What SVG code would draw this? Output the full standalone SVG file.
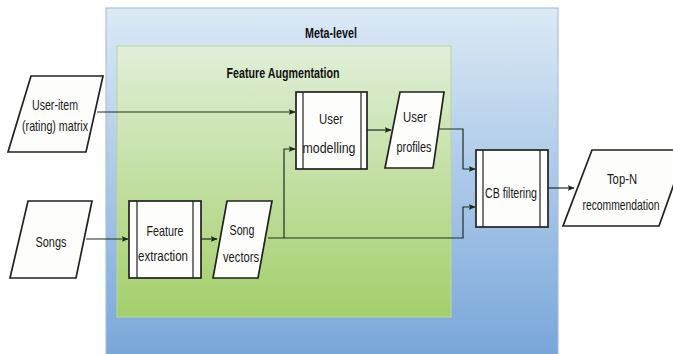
<svg xmlns="http://www.w3.org/2000/svg" width="673" height="354" viewBox="0 0 673 354">
<defs>
<linearGradient id="gBlue" x1="0" y1="0" x2="0" y2="1">
<stop offset="0" stop-color="#dce9f6"/>
<stop offset="1" stop-color="#78a6d9"/>
</linearGradient>
<linearGradient id="gGreen" x1="0" y1="0" x2="0" y2="1">
<stop offset="0" stop-color="#e1efd8"/>
<stop offset="1" stop-color="#a3cf6a"/>
</linearGradient>
<marker id="arr" viewBox="0 0 10 10" refX="9" refY="5" markerWidth="7" markerHeight="7" orient="auto" markerUnits="userSpaceOnUse">
<path d="M0,1 L10,5 L0,9 L2,5 Z" fill="#1a2a1a"/>
</marker>
</defs>
<style>
.node{fill:#fdfdfb;stroke:#222;stroke-width:1.7}
.inner{stroke:#222;stroke-width:1.2;fill:none}
.t{font-family:"Liberation Sans",Arial,sans-serif;font-size:15px;fill:#1a1a1a;text-anchor:middle}
.b{font-family:"Liberation Sans",Arial,sans-serif;font-size:15px;font-weight:bold;fill:#111;text-anchor:middle}
.c{fill:none;stroke:#1e2e22;stroke-width:1.2}
</style>
<g id="meta-level">
<rect x="106" y="8" width="452" height="350" fill="url(#gBlue)" stroke="#9fbbd8" stroke-width="1"/>
<text class="b" x="331" y="38" textLength="52" lengthAdjust="spacingAndGlyphs">Meta-level</text>
</g>
<g id="feature-augmentation">
<rect x="117" y="46" width="334" height="271" fill="url(#gGreen)" stroke="#b7d79a" stroke-width="1"/>
<text class="b" x="283" y="78" textLength="113" lengthAdjust="spacingAndGlyphs">Feature Augmentation</text>
</g>
<g id="connectors">
<path class="c" d="M97,112 H295" marker-end="url(#arr)"/>
<path class="c" d="M86,239 H128" marker-end="url(#arr)"/>
<path class="c" d="M201,239 H217" marker-end="url(#arr)"/>
<path class="c" d="M268,238 H463 V207 H475" marker-end="url(#arr)"/>
<path class="c" d="M284,238 V149 H295" marker-end="url(#arr)"/>
<path class="c" d="M367,130 H391" marker-end="url(#arr)"/>
<path class="c" d="M439,129 H463 V169 H475" marker-end="url(#arr)"/>
<path class="c" d="M548,188 H574" marker-end="url(#arr)"/>
</g>
<g id="user-item-matrix">
<path class="node" d="M31,76 H103 L86,152 H8 Z"/>
<text class="t" x="55" y="110" textLength="46" lengthAdjust="spacingAndGlyphs">User-item</text>
<text class="t" x="55" y="131" textLength="66" lengthAdjust="spacingAndGlyphs">(rating) matrix</text>
</g>
<g id="songs">
<path class="node" d="M28,201 H92 L76,278 H10 Z"/>
<text class="t" x="51" y="247" textLength="31" lengthAdjust="spacingAndGlyphs">Songs</text>
</g>
<g id="feature-extraction">
<rect class="node" x="129" y="201" width="72" height="77"/>
<path class="inner" d="M137,201 V278 M193,201 V278"/>
<text class="t" x="165" y="236" textLength="37" lengthAdjust="spacingAndGlyphs">Feature</text>
<text class="t" x="163" y="261" textLength="50" lengthAdjust="spacingAndGlyphs">extraction</text>
</g>
<g id="song-vectors">
<path class="node" d="M227,201 H272 L258,278 H213 Z"/>
<text class="t" x="242" y="235" textLength="25" lengthAdjust="spacingAndGlyphs">Song</text>
<text class="t" x="241" y="262" textLength="36" lengthAdjust="spacingAndGlyphs">vectors</text>
</g>
<g id="user-modelling">
<rect class="node" x="296" y="92" width="71" height="77"/>
<path class="inner" d="M303,92 V169 M361,92 V169"/>
<text class="t" x="331" y="124" textLength="24" lengthAdjust="spacingAndGlyphs">User</text>
<text class="t" x="329" y="153" textLength="53" lengthAdjust="spacingAndGlyphs">modelling</text>
</g>
<g id="user-profiles">
<path class="node" d="M400,92 H444 L433,168 H385 Z"/>
<text class="t" x="415" y="122" textLength="24" lengthAdjust="spacingAndGlyphs">User</text>
<text class="t" x="414" y="152" textLength="35" lengthAdjust="spacingAndGlyphs">profiles</text>
</g>
<g id="cb-filtering">
<rect class="node" x="476" y="150" width="72" height="77"/>
<path class="inner" d="M483,150 V227 M540,150 V227"/>
<text class="t" x="511" y="198" textLength="52" lengthAdjust="spacingAndGlyphs">CB filtering</text>
</g>
<g id="top-n-recommendation">
<path class="node" d="M592,150 H686 L659,226 H563 Z"/>
<text class="t" x="622" y="184" textLength="30" lengthAdjust="spacingAndGlyphs">Top-N</text>
<text class="t" x="621" y="210" textLength="77" lengthAdjust="spacingAndGlyphs">recommendation</text>
</g>
</svg>
